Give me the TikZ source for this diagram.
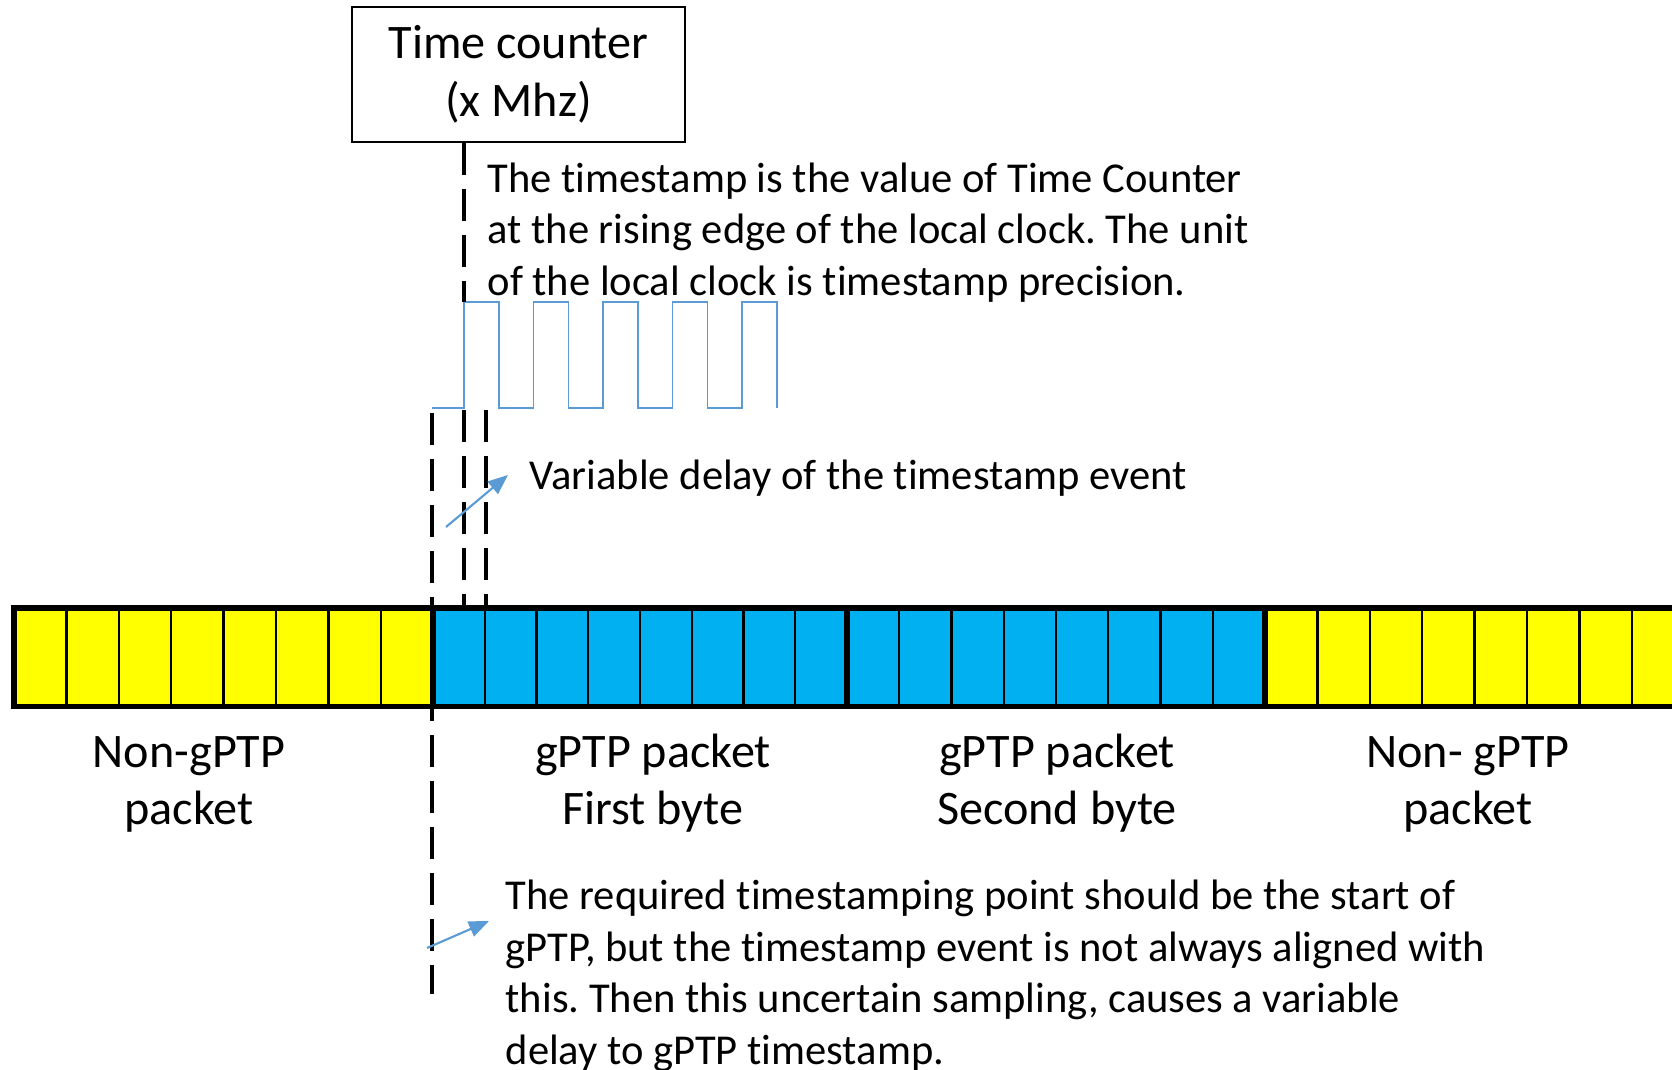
\documentclass[tikz,border=0pt]{standalone}
\usepackage{fontspec}
\setmainfont[Ligatures=NoCommon]{Carlito}
\usetikzlibrary{arrows.meta,positioning,calc}
\definecolor{clkblue}{RGB}{91,155,213}
\definecolor{pktblue}{RGB}{0,176,240}
\definecolor{pktyellow}{RGB}{255,255,0}
\frenchspacing

\begin{document}
\begin{tikzpicture}[
  x=0.01cm, y=-0.01cm,
  counterbox/.style={draw, line width=0.5pt, minimum width=3.33cm,
               minimum height=1.35cm, align=center,
               font=\fontsize{13.7}{16.5}\selectfont},
  note/.style={align=left, inner sep=0pt, anchor=base west,
               font=\fontsize{12.1}{14.6}\selectfont},
  pktlabel/.style={align=center, inner sep=0pt, anchor=base,
               font=\fontsize{13.7}{16}\selectfont},
  cellline/.style={line width=0.7pt},
  barframe/.style={line width=1.7pt},
  sampleline/.style={line width=1.1pt, dash pattern=on 0.32cm off 0.14cm},
  clk/.style={clkblue, line width=0.5pt},
  arr/.style={-{Triangle[length=2mm, width=1.6mm]}, clkblue, line width=0.6pt}
]
\useasboundingbox (0,0) rectangle (1672,1070);

% packet bar
\fill[pktyellow] (14,608) rectangle (433,706.5);
\fill[pktblue] (433,608) rectangle (1265,706.5);
\fill[pktyellow] (1265,608) rectangle (1672,706.5);
\foreach \k in {1,...,7} {
  \draw[cellline] ({14+52.4*\k},608) -- ++(0,98.5);
  \draw[cellline] ({433+51.75*\k},608) -- ++(0,98.5);
  \draw[cellline] ({847+52.25*\k},608) -- ++(0,98.5);
  \draw[cellline] ({1265+52.4*\k},608) -- ++(0,98.5);
}
\foreach \xx in {433,847,1265}
  \draw[barframe] (\xx,608) -- (\xx,706.5);
\draw[barframe] (1672,608) -- (14,608) -- (14,706.5) -- (1672,706.5);

\node[counterbox] (counter) at (518.5,74.5) {Time counter\\(x Mhz)};
% base = last line
\node[note] (rising) at (487,295) {The timestamp is the value of Time Counter\\at the rising edge of the local clock. The unit\\of the local clock is timestamp precision.};
\node[note] (vardelay) at (529,489) {Variable delay of the timestamp event};
\node[note] (required) at (505,1064) {The required timestamping point should be the start of\\gPTP, but the timestamp event is not always aligned with\\this. Then this uncertain sampling, causes a variable\\delay to gPTP timestamp.};

\node[pktlabel] (nongptpA) at (189,824) {Non-gPTP\\packet};
\node[pktlabel] (firstbyte) at (653,824) {gPTP packet\\First byte};
\node[pktlabel] (secondbyte) at (1057,824) {gPTP packet\\Second byte};
\node[pktlabel] (nongptpB) at (1468,824) {Non- gPTP\\packet};

% local clock
\draw[clk] (432,408) \foreach \t in {0,...,4} {
  -- ({464+69.5*\t},408) -- ({464+69.5*\t},302)
  -- ({499+69.5*\t},302) -- ({499+69.5*\t},408) };

\coordinate (sof) at (432,413);
\coordinate (sofend) at (432,994);
\coordinate (edgetop) at (464,302);
\coordinate (edge) at (464,410);
\coordinate (edgebar) at (464,605);
\coordinate (late) at (486,410);
\coordinate (latebar) at (486,605);
\coordinate (varfrom) at (446,527);
\coordinate (varto) at (508,475);
\coordinate (reqfrom) at (427,948);
\coordinate (reqto) at (489,921);

\draw[sampleline] (counter.south -| edgetop) -- (edgetop);
\draw[sampleline] (edge) -- (edgebar);
\draw[sampleline] (late) -- (latebar);
\draw[sampleline] (sof) -- (sofend);

\draw[arr] (varfrom) -- (varto);
\draw[arr] (reqfrom) -- (reqto);
\end{tikzpicture}
\end{document}
